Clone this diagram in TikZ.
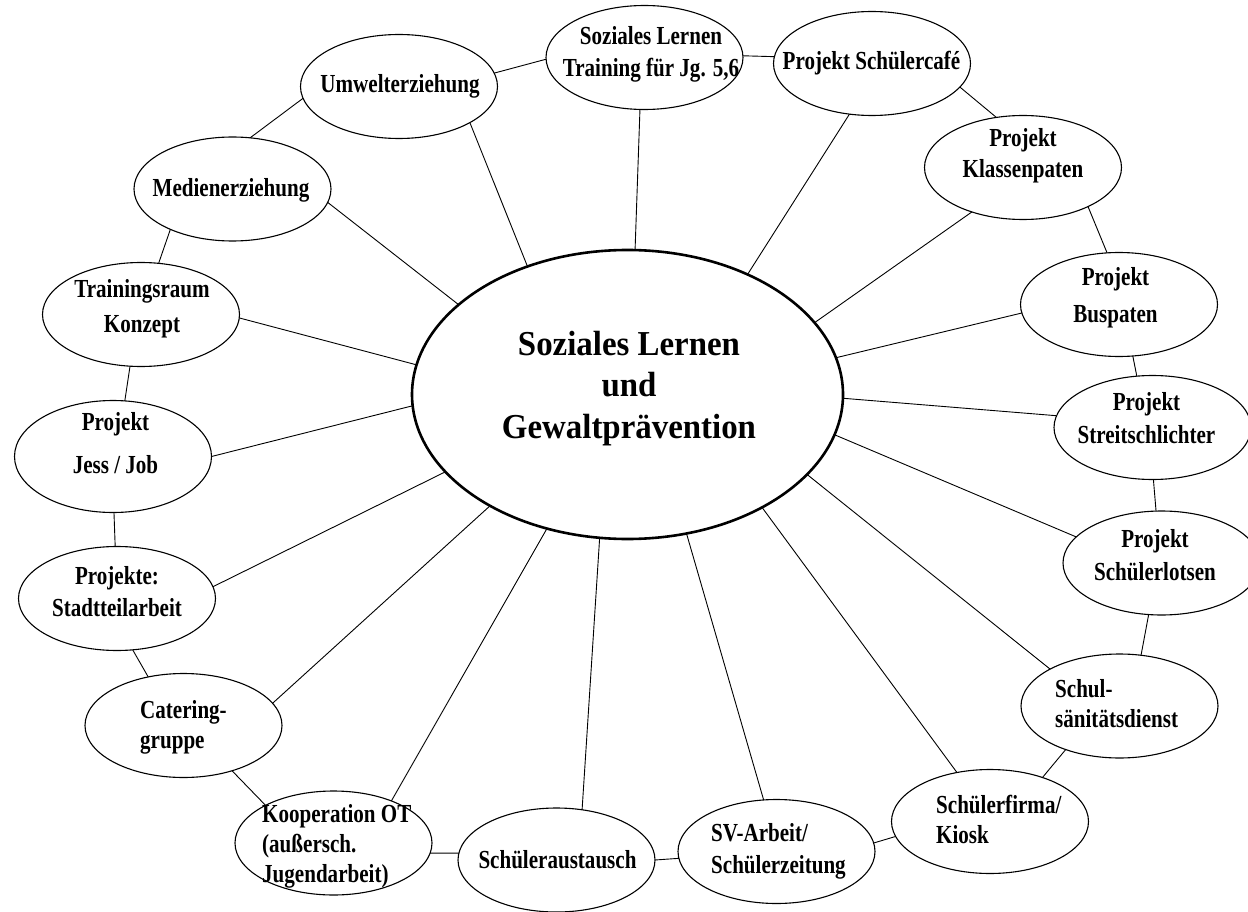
\documentclass[tikz,border=0pt]{standalone}
\usepackage{fontspec}
\usetikzlibrary{shapes.geometric}
\newfontfamily\labfont[FakeStretch=0.81]{Liberation Serif}
\newfontfamily\cenfont[FakeStretch=0.94]{Liberation Serif}
\newcommand\cl[2][32]{\vtop{\baselineskip=#1pt\halign{\hfil##\hfil\cr#2\crcr}}}
\newcommand\lft[2][30]{\vtop{\baselineskip=#1pt\halign{##\hfil\cr#2\crcr}}}
\begin{document}
\begin{tikzpicture}[x=1pt,y=-1pt,
  bub/.style={draw, ellipse, minimum width=197pt, minimum height=104pt, inner sep=0pt, outer sep=0pt, line width=1.1pt},
  hub/.style={draw, ellipse, minimum width=431pt, minimum height=289pt, inner sep=0pt, outer sep=0pt, line width=2.6pt},
  lab/.style={font=\labfont\bfseries\fontsize{26}{32}\selectfont, inner sep=0pt},
  cen/.style={font=\cenfont\bfseries\fontsize{35}{41.5}\selectfont, inner sep=0pt},
  con/.style={line width=0.9pt}]
\clip (0,0) rectangle (1248,912);
\fill[white] (0,0) rectangle (1248,912);
% ellipses
\node[hub] (c) at (627.5,394.5) {};
\node[bub] (e1) at (399,86.5) {};
\node[bub] (e2) at (644.5,57.5) {};
\node[bub] (e3) at (872,63.5) {};
\node[bub] (e4) at (1023,167.5) {};
\node[bub] (e5) at (1119,304.5) {};
\node[bub] (e6) at (1152.5,427.5) {};
\node[bub] (e7) at (1161.5,563) {};
\node[bub] (e8) at (1119.5,706) {};
\node[bub] (e9) at (990,821.5) {};
\node[bub] (e10) at (776.5,851.5) {};
\node[bub] (e11) at (556.5,860) {};
\node[bub] (e12) at (333.5,843) {};
\node[bub] (e13) at (183.5,725.5) {};
\node[bub] (e14) at (117,598.5) {};
\node[bub, minimum height=112pt] (e15) at (113,456.5) {};
\node[bub] (e16) at (141,314.5) {};
\node[bub] (e17) at (232.5,189) {};
% ring connectors
\draw[con] (e1.8) -- (e2.181.5);
\draw[con] (e1.187) -- (e17.71);
\draw[con] (e17.213) -- (e16.71);
\draw[con] (e16.258) -- (e15.78);
\draw[con] (e15.271) -- (e14.92);
\draw[con] (e14.287) -- (e13.126);
\draw[con] (e13.317) -- (e12.151);
\draw[con] (e12.354) -- (e11.176.5);
\draw[con] (e11.0) -- (e10.184);
\draw[con] (e10.5) -- (e9.189);
\draw[con] (e9.40) -- (e8.219);
\draw[con] (e8.67) -- (e7.256);
\draw[con] (e7.96) -- (e6.271);
\draw[con] (e6.107) -- (e5.285);
\draw[con] (e5.103) -- (e4.329.5);
\draw[con] (e4.118) -- (e3.345);
\draw[con] (e3.176) -- (e2.1);
% spokes
\draw[con] (c.128) -- (e1.333);
\draw[con] (c.152.5) -- (e17.352);
\draw[con] (c.172) -- (e16.358);
\draw[con] (c.183) -- (e15.0);
\draw[con] (c.203.5) -- (e14.7);
\draw[con] (c.219.5) -- (e13.14);
\draw[con] (c.239) -- (e12.36);
\draw[con] (c.259) -- (e11.63);
\draw[con] (c.293) -- (e10.104);
\draw[con] (c.320.5) -- (e9.124);
\draw[con] (c.336) -- (e8.152);
\draw[con] (c.349.7) -- (e7.163);
\draw[con] (c.359.3) -- (e6.173);
\draw[con] (c.10) -- (e5.185);
\draw[con] (c.21) -- (e4.221.7);
\draw[con] (c.45.7) -- (e3.246);
\draw[con] (c.87) -- (e2.265);
% labels
\node[cen, anchor=base] (ct) at (629,355) {\cl[41.5]{Soziales Lernen\cr und\cr Gewaltprävention}};
\node[lab, anchor=base] (t1) at (400,93) {Umwelterziehung};
\node[lab, anchor=base] (t2) at (651,45) {\cl{Soziales Lernen\cr Training für Jg. 5,6}};
\node[lab, anchor=base] (t3) at (871.5,70) {Projekt Schülercafé};
\node[lab, anchor=base] (t4) at (1023,147) {\cl[31]{Projekt\cr Klassenpaten}};
\node[lab, anchor=base] (t5) at (1115.5,285) {\cl[37]{Projekt\cr Buspaten}};
\node[lab, anchor=base] (t6) at (1146.5,410) {\cl[33]{Projekt\cr Streitschlichter}};
\node[lab, anchor=base] (t7) at (1155,547) {\cl[33]{Projekt\cr Schülerlotsen}};
\node[lab, anchor=base west] (t8) at (1055,697) {\lft[30]{Schul-\cr sänitätsdienst}};
\node[lab, anchor=base west] (t9) at (936,813) {\lft[30]{Schülerfirma/\cr Kiosk}};
\node[lab, anchor=base west] (t10) at (711,841) {\lft[32]{SV-Arbeit/\cr Schülerzeitung}};
\node[lab, anchor=base] (t11) at (557.5,868) {Schüleraustausch};
\node[lab, anchor=base west] (t12) at (262,822) {\lft[30]{Kooperation OT\cr (außersch.\cr Jugendarbeit)}};
\node[lab, anchor=base west] (t13) at (140,718) {\lft[30]{Catering-\cr gruppe}};
\node[lab, anchor=base] (t14) at (117,584) {\cl{Projekte:\cr Stadtteilarbeit}};
\node[lab, anchor=base] (t15) at (115.5,430) {\cl[43]{Projekt\cr Jess / Job}};
\node[lab, anchor=base] (t16) at (142,298) {\cl[35]{Trainingsraum\cr Konzept}};
\node[lab, anchor=base] (t17) at (231,197) {Medienerziehung};
\end{tikzpicture}
\end{document}
